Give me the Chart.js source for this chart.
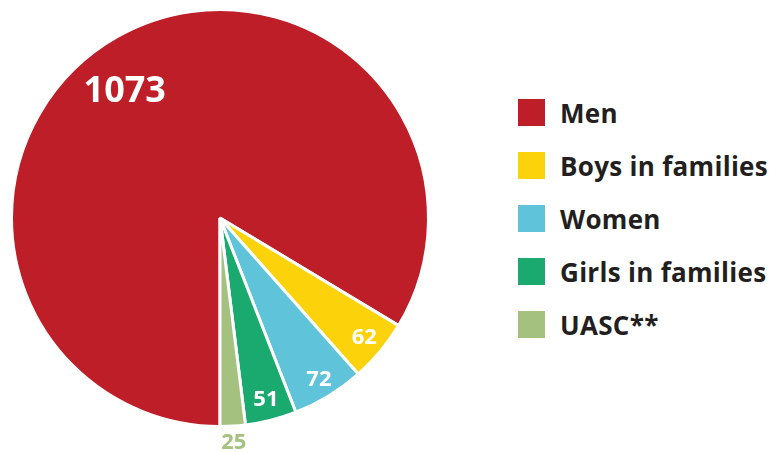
<!DOCTYPE html>
<html>
<head>
<meta charset="utf-8">
<script src="https://cdn.jsdelivr.net/npm/chart.js@4"></script>
<style>
  html, body { margin: 0; padding: 0; background: #fff; }
  #wrap { position: relative; width: 776px; height: 452px; }
  #chart-box { position: absolute; left: 0; top: 0; width: 440px; height: 452px; }
  #legend { position: absolute; left: 518px; top: 99px; font-family: "Open Sans", sans-serif; font-weight: 700; font-size: 26px; letter-spacing: 0.3px; color: #231f20; }
  #legend div { display: flex; align-items: center; height: 27px; margin-bottom: 26px; white-space: nowrap; }
  #legend span { display: inline-block; width: 27px; height: 27px; margin-right: 15px; }
</style>
</head>
<body>
<div id="wrap">
  <div id="chart-box"><canvas id="chart"></canvas></div>
  <div id="legend"></div>
</div>
<script>
const groups = ['Men', 'Boys in families', 'Women', 'Girls in families', 'UASC**'];
const counts = [1073, 62, 72, 51, 25];
const colors = ['#be1e27', '#fcd20b', '#5fc4da', '#1aa96f', '#a4c17f'];
const labelColors = ['#ffffff', '#ffffff', '#ffffff', '#ffffff', '#a4c17f'];
// where each label sits: fraction of the radius, and small angle nudge (degrees)
const labelRadius = [0.76, 0.9, 0.91, 0.9, 1.08];
const labelNudge = [-7.5, 0, 0, 0, 0];
const labelSize = [36, 22, 22, 22, 22];

const sliceLabels = {
  id: 'sliceLabels',
  afterDatasetsDraw(chart) {
    const ctx = chart.ctx;
    const arcs = chart.getDatasetMeta(0).data;
    ctx.save();
    ctx.textAlign = 'center';
    ctx.textBaseline = 'middle';
    arcs.forEach((arc, i) => {
      const p = arc.getProps(['x', 'y', 'startAngle', 'endAngle', 'outerRadius']);
      const a = (p.startAngle + p.endAngle) / 2 + labelNudge[i] * Math.PI / 180;
      const r = p.outerRadius * labelRadius[i];
      ctx.font = '700 ' + labelSize[i] + 'px "Open Sans", sans-serif';
      ctx.fillStyle = labelColors[i];
      ctx.fillText(String(counts[i]), p.x + Math.cos(a) * r, p.y + Math.sin(a) * r);
    });
    ctx.restore();
  }
};

const legend = document.getElementById('legend');
groups.forEach((g, i) => {
  const row = document.createElement('div');
  row.innerHTML = '<span style="background:' + colors[i] + '"></span>' + g;
  legend.appendChild(row);
});

new Chart(document.getElementById('chart').getContext('2d'), {
  type: 'pie',
  data: {
    labels: groups,
    datasets: [{
      data: counts,
      backgroundColor: colors,
      borderColor: '#ffffff',
      borderWidth: 3,
      hoverOffset: 0
    }]
  },
  options: {
    responsive: true,
    maintainAspectRatio: false,
    animation: false,
    rotation: 180,
    layout: { padding: { left: 10, right: 10, top: 8, bottom: 24 } },
    plugins: {
      legend: { display: false },
      tooltip: { enabled: false }
    }
  },
  plugins: [sliceLabels]
});
</script>
</body>
</html>
